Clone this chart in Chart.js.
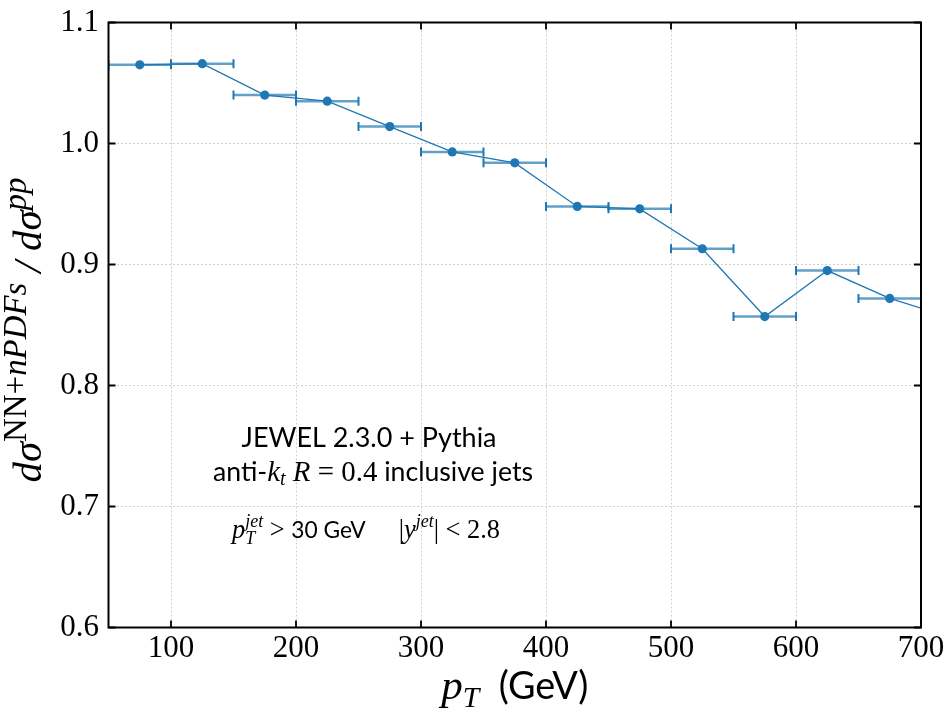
<!DOCTYPE html>
<html>
<head>
<meta charset="utf-8">
<script src="https://cdn.jsdelivr.net/npm/chart.js@4/dist/chart.umd.min.js"></script>
<style>
  html, body { margin: 0; padding: 0; background: #fff; }
</style>
</head>
<body>
<canvas id="ratioChart" width="949" height="709"></canvas>
<script>
// bin centres (GeV), half bin widths and the NN+nPDFs / pp ratio
const binCenters = [75, 125, 175, 225, 275, 325, 375, 425, 475, 525, 575, 625, 675, 725];
const binHalfWidths = [25, 25, 25, 25, 25, 25, 25, 25, 25, 25, 25, 25, 25, 25];
const ratioValues = [1.065, 1.066, 1.040, 1.035, 1.014, 0.993, 0.984, 0.948, 0.946, 0.913, 0.857, 0.895, 0.872, 0.856];
const xTickValues = [100, 200, 300, 400, 500, 600, 700];
const yTickValues = [0.6, 0.7, 0.8, 0.9, 1.0, 1.1];

const BLUE = "#1f77b4";
const SERIF = '"Liberation Serif", "DejaVu Serif", serif';
const SANS = 'Lato, "Open Sans", sans-serif';

function fontOf(r, k) {
    return (r.it ? "italic " : "") + (r.size * k).toFixed(2) + "px " + r.fam;
}

function runsWidth(ctx, runs, k) {
    let w = 0;
    runs.forEach(r => {
        const parts = r.stack || [r];
        w += Math.max(...parts.map(p => { ctx.font = fontOf(p, k); return ctx.measureText(p.t).width; }));
    });
    return w;
}

// draws a line of mixed-font text centred on cx, scaled to targetW if given
function drawRuns(ctx, runs, cx, baseY, targetW) {
    const k = targetW ? targetW / runsWidth(ctx, runs, 1) : 1;
    let x = cx - runsWidth(ctx, runs, k) / 2;
    ctx.textAlign = "left";
    ctx.textBaseline = "alphabetic";
    ctx.fillStyle = "#000";
    runs.forEach(r => {
        const parts = r.stack || [r];
        let adv = 0;
        parts.forEach(p => {
            ctx.font = fontOf(p, k);
            ctx.fillText(p.t, x, baseY + (p.dy || 0) * k);
            adv = Math.max(adv, ctx.measureText(p.t).width);
        });
        x += adv;
    });
}

const errorBarPlugin = {
    id: "errorBars",
    beforeDatasetsDraw(chart) {
        const { ctx, chartArea: a, scales: { x, y } } = chart;
        ctx.save();
        ctx.beginPath();
        ctx.rect(a.left, a.top, a.right - a.left, a.bottom - a.top);
        ctx.clip();
        binCenters.forEach((c, i) => {
            const x0 = x.getPixelForValue(c - binHalfWidths[i]);
            const x1 = x.getPixelForValue(c + binHalfWidths[i]);
            const py = y.getPixelForValue(ratioValues[i]);
            ctx.strokeStyle = "rgba(31,119,180,0.7)";
            ctx.lineWidth = 2.5;
            ctx.beginPath();
            ctx.moveTo(x0, py);
            ctx.lineTo(x1, py);
            ctx.stroke();
            ctx.strokeStyle = BLUE;
            ctx.lineWidth = 2;
            ctx.beginPath();
            ctx.moveTo(x0, py - 4.5); ctx.lineTo(x0, py + 4.5);
            ctx.moveTo(x1, py - 4.5); ctx.lineTo(x1, py + 4.5);
            ctx.stroke();
        });
        ctx.restore();
    }
};

const framePlugin = {
    id: "frame",
    afterDraw(chart) {
        const { ctx, chartArea: a, scales: { x, y } } = chart;
        ctx.save();
        ctx.strokeStyle = "#000";
        ctx.lineWidth = 1.8;
        ctx.beginPath();
        xTickValues.forEach(v => {
            const px = x.getPixelForValue(v);
            ctx.moveTo(px, a.bottom); ctx.lineTo(px, a.bottom - 7);
            ctx.moveTo(px, a.top); ctx.lineTo(px, a.top + 7);
        });
        yTickValues.forEach(v => {
            const py = y.getPixelForValue(v);
            ctx.moveTo(a.left, py); ctx.lineTo(a.left + 7, py);
            ctx.moveTo(a.right, py); ctx.lineTo(a.right - 7, py);
        });
        ctx.stroke();
        ctx.lineWidth = 2;
        ctx.strokeRect(a.left, a.top, a.right - a.left, a.bottom - a.top);

        // axis titles
        drawRuns(ctx, [
            { t: "p", size: 32, fam: SERIF, it: true },
            { t: "T", size: 22, fam: SERIF, it: true, dy: 6 },
            { t: "  (GeV)", size: 28, fam: SANS }
        ], (a.left + a.right) / 2, 699, 147);

        ctx.save();
        ctx.translate(0, 330);
        ctx.rotate(-Math.PI / 2);
        drawRuns(ctx, [
            { t: "dσ", size: 36, fam: SERIF, it: true },
            { t: "NN+", size: 29, fam: SERIF, dy: -13 },
            { t: "nPDFs", size: 29, fam: SERIF, it: true, dy: -13 },
            { t: " / ", size: 36, fam: SERIF, it: true },
            { t: "dσ", size: 36, fam: SERIF, it: true },
            { t: "pp", size: 29, fam: SERIF, it: true, dy: -13 }
        ], 0, 41, 305);
        ctx.restore();

        // annotation
        drawRuns(ctx, [
            { t: "JEWEL 2.3.0 + Pythia", size: 24, fam: SANS }
        ], 369, 447, 255);
        drawRuns(ctx, [
            { t: "anti-", size: 24, fam: SANS },
            { t: "k", size: 26, fam: SERIF, it: true },
            { t: "t", size: 18, fam: SERIF, it: true, dy: 4 },
            { t: " R", size: 26, fam: SERIF, it: true },
            { t: " = 0.4", size: 26, fam: SERIF },
            { t: " inclusive jets", size: 24, fam: SANS }
        ], 373, 481, 320);
        drawRuns(ctx, [
            { t: "p", size: 22, fam: SERIF, it: true },
            { stack: [
                { t: "jet", size: 15, fam: SERIF, it: true, dy: -9 },
                { t: "T", size: 15, fam: SERIF, it: true, dy: 5 }
            ] },
            { t: " > ", size: 22, fam: SERIF },
            { t: "30 GeV", size: 19, fam: SANS },
            { t: "     |", size: 22, fam: SERIF },
            { t: "y", size: 22, fam: SERIF, it: true },
            { t: "jet", size: 15, fam: SERIF, it: true, dy: -9 },
            { t: "| < 2.8", size: 22, fam: SERIF }
        ], 366, 538, 268);
        ctx.restore();
    }
};

new Chart(document.getElementById("ratioChart").getContext("2d"), {
    type: "line",
    data: {
        datasets: [{
            data: binCenters.map((c, i) => ({ x: c, y: ratioValues[i] })),
            borderColor: BLUE,
            backgroundColor: BLUE,
            borderWidth: 1.3,
            pointRadius: 4.6,
            pointHoverRadius: 4.6,
            pointBorderWidth: 0,
            tension: 0,
            clip: 0
        }]
    },
    options: {
        responsive: false,
        animation: false,
        devicePixelRatio: 1,
        layout: { padding: { top: 22.5, right: 28, left: 0, bottom: 0 } },
        plugins: { legend: { display: false }, tooltip: { enabled: false } },
        scales: {
            x: {
                type: "linear",
                min: 50,
                max: 700,
                afterBuildTicks: s => { s.ticks = xTickValues.map(v => ({ value: v })); },
                afterFit: s => { s.height = 81.5; },
                grid: { color: "#d0d0d0", lineWidth: 1, drawTicks: false },
                border: { display: false, dash: [2, 2] },
                ticks: { color: "#000", font: { family: SERIF, size: 31 }, padding: 3, maxRotation: 0 }
            },
            y: {
                min: 0.6,
                max: 1.1,
                afterBuildTicks: s => { s.ticks = yTickValues.map(v => ({ value: v })); },
                afterFit: s => { s.width = 108.5; },
                grid: { color: "#d0d0d0", lineWidth: 1, drawTicks: false },
                border: { display: false, dash: [2, 2] },
                ticks: { color: "#000", font: { family: SERIF, size: 31, lineHeight: 0.8 }, padding: 9.5, callback: v => v.toFixed(1) }
            }
        }
    },
    plugins: [errorBarPlugin, framePlugin]
});
</script>
</body>
</html>
